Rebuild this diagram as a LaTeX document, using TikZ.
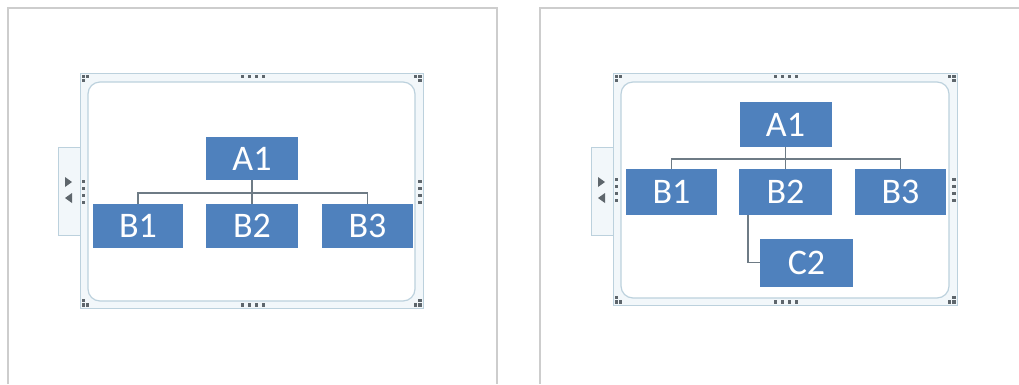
\documentclass[tikz,border=0pt]{standalone}
\usepackage{fontspec}
\newfontfamily\boxfont{Carlito}
\usetikzlibrary{positioning, calc}
\definecolor{artblue}{HTML}{4F81BD}
\definecolor{linkgray}{HTML}{6E7B85}
\definecolor{frameline}{HTML}{BCD1DD}
\definecolor{frameband}{HTML}{F2F7FA}
\definecolor{handlegray}{HTML}{5E666C}
\definecolor{panelgray}{HTML}{CDCDCD}

\begin{document}
\begin{tikzpicture}[x=1pt, y=-1pt,
    artbox/.style={fill=artblue, text=white, inner sep=0pt,
                   minimum width=92pt, minimum height=44pt,
                   font=\boxfont\fontsize{36}{36}\selectfont},
    link/.style={draw=linkgray, line width=1.4pt},
    frameout/.style={draw=frameline, fill=frameband, line width=1pt},
    framein/.style={draw=frameline, fill=white, line width=1.2pt, rounded corners=12pt},
    tabbox/.style={draw=frameline, fill=frameband, line width=1pt},
    handle/.style={fill=handlegray},
    panel/.style={draw=panelgray, line width=1.5pt}]
    \fill[white] (0,0) rectangle (1019,384);
    \useasboundingbox (0,0) rectangle (1019,384);

    % screen panels
    \draw[panel] (8,384) -- (8,8) -- (497,8) -- (497,384);
    \draw[panel] (540,384) -- (540,8) -- (1019,8);

    % SmartArt frames with tab and handles
    \foreach \xa/\ya/\xb/\yb in {80/73/423/308, 613/73/957/305} {
      \pgfmathsetmacro\xm{(\xa+\xb)/2}
      \pgfmathsetmacro\ym{(\ya+\yb)/2}
      \draw[tabbox] (\xa-22,147) rectangle (\xa,235);
      \draw[frameout] (\xa,\ya) rectangle (\xb,\yb);
      \draw[framein] (\xa+8,\ya+9) rectangle (\xb-8,\yb-7);
      \fill[handlegray] (\xa-15,177) -- (\xa-8,182) -- (\xa-15,187) -- cycle;
      \fill[handlegray] (\xa-8,193) -- (\xa-15,198) -- (\xa-8,203) -- cycle;
      \foreach \d in {-11,-4,3,10} {
        \fill[handle] (\xm+\d,\ya+1.5) rectangle ++(3.2,3.2);
        \fill[handle] (\xm+\d,\yb-4.7) rectangle ++(3.2,3.2);
        \fill[handle] (\xa+1.5,\ym+\d) rectangle ++(3.2,3.2);
        \fill[handle] (\xb-4.7,\ym+\d) rectangle ++(3.2,3.2);
      }
      \foreach \cx/\cy/\sx/\sy in {\xa/\ya/1/1, \xb/\ya/-1/1, \xa/\yb/1/-1, \xb/\yb/-1/-1} {
        \fill[handle] (\cx+1.5*\sx,\cy+1.5*\sy) rectangle ++(3.2*\sx,3.2*\sy);
        \fill[handle] (\cx+6*\sx,\cy+1.5*\sy) rectangle ++(3.2*\sx,3.2*\sy);
        \fill[handle] (\cx+1.5*\sx,\cy+6*\sy) rectangle ++(3.2*\sx,3.2*\sy);
      }
    }

    % left chart
    \node[artbox, minimum height=43pt] (lA1) at (252,158.5) {A1};
    \node[artbox, minimum width=90pt] (lB1) at (138,226) {B1};
    \node[artbox] (lB2) at (252,226) {B2};
    \node[artbox, minimum width=91pt] (lB3) at (367.5,226) {B3};
    \draw[link] (lB1.north) -- ++(0,-11) -| (lB3.north);
    \draw[link] (lA1.south) -- (lB2.north);

    % right chart
    \node[artbox, minimum height=45pt] (rA1) at (785.5,124.5) {A1};
    \node[artbox, minimum width=91pt, minimum height=46pt] (rB1) at (671.5,192) {B1};
    \node[artbox, minimum width=93pt, minimum height=46pt] (rB2) at (785.5,192) {B2};
    \node[artbox, minimum width=91pt, minimum height=46pt] (rB3) at (900.5,192) {B3};
    \node[artbox, minimum width=93pt, minimum height=48pt] (rC2) at (806.5,262.5) {C2};
    \draw[link] (rB1.north) -- ++(0,-10) -| (rB3.north);
    \draw[link] (rA1.south) -- (rB2.north);
    \draw[link] ([xshift=9pt]rB2.south west) |- (rC2.west);
\end{tikzpicture}
\end{document}
